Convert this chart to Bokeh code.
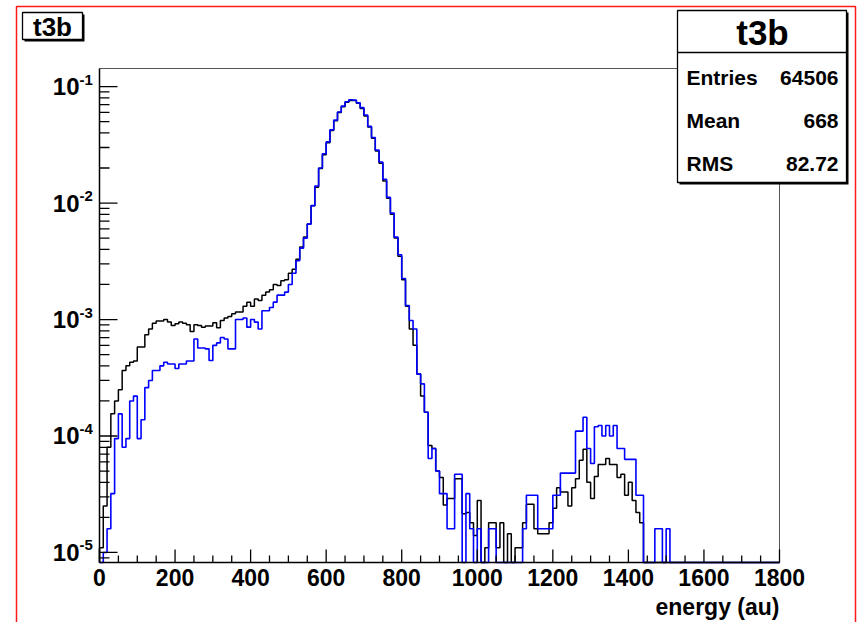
import math
import numpy as np
from bokeh.plotting import figure
from bokeh.models import Label, BoxAnnotation, Range1d
from bokeh.core.properties import value
from bokeh.embed import file_html
from bokeh.resources import INLINE

# ---- data: normalised histogram t3b, 180 bins of width 10 from 0 to 1800 ----
bin_width = 10
black_vals = [
    1.1e-5, 2.5e-5, 8.0e-5, 1.55e-4, 2.0e-4, 2.5e-4, 3.65e-4, 4.0e-4, 4.3e-4, 4.4e-4,
    5.8e-4, 5.8e-4, 7.4e-4, 8.3e-4, 9.3e-4, 9.7e-4, 9.7e-4, 1.0e-3, 9.5e-4, 8.9e-4,
    9.2e-4, 9.5e-4, 9.3e-4, 9.0e-4, 7.9e-4, 9.0e-4, 8.9e-4, 8.6e-4, 8.8e-4, 8.8e-4,
    9.4e-4, 8.5e-4, 9.8e-4, 1.03e-3, 1.06e-3, 1.12e-3, 1.16e-3, 1.16e-3, 1.3e-3, 1.41e-3,
    1.3e-3, 1.5e-3, 1.46e-3, 1.62e-3, 1.72e-3, 1.8e-3, 2.0e-3, 1.96e-3, 2.15e-3, 2.2e-3,
    2.5e-3, 2.7e-3, 3.3e-3, 4.2e-3, 5.1e-3, 6.6e-3, 9.5e-3, 1.37e-2, 1.98e-2, 2.6e-2,
    3.3e-2, 4.2e-2, 5.1e-2, 6.0e-2, 6.7e-2, 7.35e-2, 7.6e-2, 7.6e-2, 7.2e-2, 6.5e-2,
    5.6e-2, 4.5e-2, 3.6e-2, 2.8e-2, 2.2e-2, 1.55e-2, 1.1e-2, 8.0e-3, 5.0e-3, 3.5e-3,
    2.2e-3, 1.3e-3, 8.3e-4, 6.0e-4, 3.4e-4, 2.2e-4, 1.6e-4, 8.3e-5, 7.8e-5, 5.0e-5,
    4.4e-5, 2.55e-5, 2.9e-5, 2.9e-5, 4.3e-5, 4.3e-5, 2.15e-5, 2.2e-5, 1.8e-5, 1.4e-5,
    2.8e-5, 0, 1.1e-5, 1.8e-5, 1.8e-5, 1.1e-5, 1.8e-5, 0, 1.45e-5, 0,
    1.1e-5, 1.1e-5, 1.8e-5, 2.6e-5, 2.6e-5, 1.6e-5, 1.45e-5, 1.45e-5, 1.45e-5, 1.8e-5,
    2.4e-5, 3.6e-5, 3.3e-5, 3.3e-5, 2.5e-5, 3.6e-5, 4.3e-5, 6.2e-5, 7.7e-5, 4.0e-5,
    2.9e-5, 4.5e-5, 5.7e-5, 5.7e-5, 6.4e-5, 5.7e-5, 5.7e-5, 4.4e-5, 4.7e-5, 3.1e-5,
    4.0e-5, 2.8e-5, 2.2e-5, 1.8e-5, 0, 0, 0, 0, 0, 0,
    0, 0, 0, 0, 0, 0, 0, 0, 0, 0,
    0, 0, 0, 0, 0, 0, 0, 0, 0, 0,
    0, 0, 0, 0, 0, 0, 0, 0, 0, 0,
]
blue_vals = [
    0, 1.0e-5, 1.6e-5, 3.2e-5, 9.5e-5, 1.55e-4, 8.0e-5, 9.5e-5, 2.0e-4, 2.2e-4,
    9.5e-5, 1.38e-4, 2.6e-4, 3.0e-4, 3.65e-4, 3.65e-4, 4.0e-4, 4.3e-4, 4.15e-4, 4.15e-4,
    3.8e-4, 4.15e-4, 4.15e-4, 4.4e-4, 4.4e-4, 6.8e-4, 5.7e-4, 5.7e-4, 5.6e-4, 4.45e-4,
    6.0e-4, 6.3e-4, 7.0e-4, 6.8e-4, 5.6e-4, 5.6e-4, 1.0e-3, 1.0e-3, 1.03e-3, 8.6e-4,
    1.0e-3, 9.5e-4, 8.3e-4, 1.19e-3, 1.19e-3, 1.27e-3, 1.41e-3, 1.62e-3, 1.62e-3, 1.72e-3,
    2.0e-3, 2.5e-3, 3.2e-3, 4.1e-3, 5.0e-3, 6.6e-3, 9.5e-3, 1.4e-2, 2.0e-2, 2.65e-2,
    3.35e-2, 4.25e-2, 5.15e-2, 6.05e-2, 6.8e-2, 7.4e-2, 7.7e-2, 7.65e-2, 7.25e-2, 6.6e-2,
    5.7e-2, 4.55e-2, 3.65e-2, 2.85e-2, 2.25e-2, 1.6e-2, 1.12e-2, 8.2e-3, 5.1e-3, 3.6e-3,
    2.25e-3, 1.32e-3, 9.8e-4, 8.3e-4, 3.4e-4, 2.8e-4, 1.6e-4, 6.4e-5, 7.8e-5, 5.0e-5,
    3.2e-5, 3.2e-5, 1.6e-5, 1.6e-5, 4.7e-5, 4.7e-5, 0, 3.2e-5, 1.6e-5, 0,
    1.6e-5, 0, 0, 1.6e-5, 1.6e-5, 0, 0, 0, 0, 0,
    0, 0, 1.6e-5, 3.1e-5, 3.1e-5, 3.1e-5, 1.6e-5, 1.6e-5, 1.6e-5, 1.6e-5,
    3.1e-5, 3.1e-5, 4.8e-5, 4.8e-5, 4.8e-5, 4.8e-5, 1.1e-4, 1.1e-4, 1.45e-4, 7.8e-5,
    5.8e-5, 1.2e-4, 1.23e-4, 1.0e-4, 1.23e-4, 1.0e-4, 1.23e-4, 7.8e-5, 7.8e-5, 6.3e-5,
    6.3e-5, 6.3e-5, 3.1e-5, 3.1e-5, 0, 0, 0, 1.6e-5, 1.6e-5, 0,
    1.6e-5, 0, 0, 0, 0, 0, 0, 0, 0, 0,
    0, 0, 0, 0, 0, 0, 0, 0, 0, 0,
    0, 0, 0, 0, 0, 0, 0, 0, 0, 0,
]
x_major_ticks = [0, 200, 400, 600, 800, 1000, 1200, 1400, 1600, 1800]
x_tick_labels = ["0", "200", "400", "600", "800", "1000", "1200", "1400", "1600", "1800"]
y_major_exponents = [-5, -4, -3, -2, -1]
stats_labels = ["Entries", "Mean", "RMS"]
stats_values = ["64506", "668", "82.72"]
hist_name = "t3b"
x_title = "energy (au)"

x_min, x_max = 0, 1800
y_min, y_max = 8.2e-6, 0.143

FONT = "Liberation Sans"

# ---- geometry: frame covers the whole canvas; the plot box sits inside it ----
W, H = 865, 622
box_left, box_right, box_top, box_bottom = 99, 779, 68, 562
ppx = (box_right - box_left) / (x_max - x_min)
ly0, ly1 = math.log10(y_min), math.log10(y_max)
ppd = (box_bottom - box_top) / (ly1 - ly0)
xr = Range1d(x_min - box_left / ppx, x_max + (W - box_right) / ppx)
yr = Range1d(10 ** (ly0 - (H - box_bottom) / ppd), 10 ** (ly1 + box_top / ppd))

p = figure(width=W, height=H, x_range=xr, y_range=yr, y_axis_type="log",
           output_backend="svg", toolbar_location=None, title=None,
           x_axis_location=None, y_axis_location=None,
           min_border=0, min_border_left=0, min_border_right=0,
           min_border_top=0, min_border_bottom=0)
p.background_fill_color = "white"
p.border_fill_color = "white"
p.outline_line_color = None
p.grid.visible = False

# ---- histograms (empty bins lie on the axis, as ROOT draws them) ----
edges = np.arange(x_min, x_min + bin_width * (len(black_vals) + 1), bin_width)


def step_xy(vals):
    v = [min(max(x, y_min), y_max) for x in vals]
    xs = [edges[0]] + list(edges)
    ys = [y_min] + v + [v[-1]]
    return xs, ys


bx, by = step_xy(black_vals)
p.step(bx, by, mode="after", line_color="black", line_width=1.5)
ux, uy = step_xy(blue_vals)
p.step(ux, uy, mode="after", line_color="#0000ff", line_width=1.6)

# ---- frame: top/right grey, axes black ----
p.segment(x0=[x_min, x_max], y0=[y_max, y_min], x1=[x_max, x_max], y1=[y_max, y_max],
          line_color="#555555", line_width=1)
p.segment(x0=[x_min, x_min], y0=[y_min, y_min], x1=[x_max, x_min], y1=[y_min, y_max],
          line_color="black", line_width=1.5)

# x ticks (inside the frame, pointing up)
x_minor = [t for t in range(x_min, x_max + 1, 50) if t not in x_major_ticks]
p.ray(x=x_major_ticks, y=[y_min] * len(x_major_ticks), length=13, length_units="screen",
      angle=math.pi / 2, line_color="black", line_width=1.3)
p.ray(x=x_minor, y=[y_min] * len(x_minor), length=7, length_units="screen",
      angle=math.pi / 2, line_color="black", line_width=1.3)
p.text(x=x_major_ticks, y=[y_min] * len(x_major_ticks), text=x_tick_labels,
       y_offset=6, text_align="center", text_baseline="top",
       text_font=value(FONT), text_font_style="bold", text_font_size="23px", text_color="black")

# y ticks (log, inside the frame, pointing right)
y_major = [10.0 ** e for e in y_major_exponents]
y_minor = [k * 10.0 ** e for e in range(-6, 0) for k in range(2, 10)
           if y_min <= k * 10.0 ** e <= y_max]
p.ray(x=[x_min] * len(y_major), y=y_major, length=18, length_units="screen", angle=0,
      line_color="black", line_width=1.3)
p.ray(x=[x_min] * len(y_minor), y=y_minor, length=10, length_units="screen", angle=0,
      line_color="black", line_width=1.3)
p.text(x=[x_min] * len(y_major), y=y_major, text=["10"] * len(y_major),
       x_offset=-20, text_align="right", text_baseline="middle",
       text_font=value(FONT), text_font_style="bold", text_font_size="24px", text_color="black")
p.text(x=[x_min] * len(y_major), y=y_major, text=[str(e) for e in y_major_exponents],
       x_offset=-20, y_offset=-7, text_align="left", text_baseline="middle",
       text_font=value(FONT), text_font_style="bold", text_font_size="15px", text_color="black")

# x-axis title, right aligned at the end of the axis
p.text(x=[x_max], y=[y_min], text=[x_title], y_offset=31, text_align="right",
       text_baseline="top", text_font=value(FONT), text_font_style="bold",
       text_font_size="23px", text_color="black")


def cbox(l, r, t, b, **kw):
    p.add_layout(BoxAnnotation(left=l, right=r, top=t, bottom=b,
                               left_units="canvas", right_units="canvas",
                               top_units="canvas", bottom_units="canvas",
                               level="overlay", **kw))


def clabel(x, y, text, size, align):
    p.add_layout(Label(x=x, y=y, x_units="canvas", y_units="canvas", text=text,
                       text_font=FONT, text_font_style="bold", text_font_size=size,
                       text_color="black", text_align=align, text_baseline="middle",
                       level="overlay"))


# canvas border (red)
cbox(16, 855, 6, 700, fill_alpha=0, line_color="#ff1a1a", line_alpha=1, line_width=1.5)

# title box with shadow
cbox(24, 84, 14, 41, fill_color="black", fill_alpha=1, line_alpha=0)
cbox(22, 82, 12, 39, fill_color="white", fill_alpha=1, line_color="black", line_alpha=1,
     line_width=1.3)
clabel(52, 26, hist_name, "26px", "center")

# stats box with shadow
cbox(679, 848, 12, 184, fill_color="black", fill_alpha=1, line_alpha=0)
cbox(677, 846, 10, 182, fill_color="white", fill_alpha=1, line_color="black", line_alpha=1,
     line_width=1.3)
cbox(677, 846, 52, 52, fill_alpha=0, line_color="black", line_alpha=1, line_width=1.3)
clabel(762, 32, hist_name, "35px", "center")
for lab, val, yy in zip(stats_labels, stats_values, [77, 120, 163]):
    clabel(686, yy, lab, "21px", "left")
    clabel(838, yy, val, "21px", "right")

open("out.html", "w").write(file_html(p, INLINE))
